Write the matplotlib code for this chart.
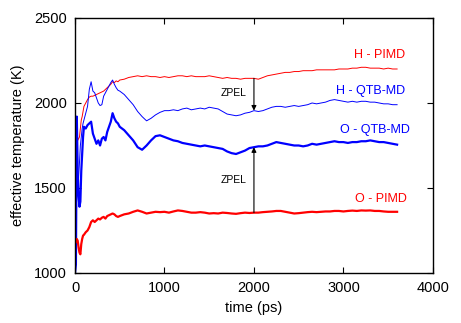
import matplotlib
matplotlib.use("Agg")
import matplotlib.pyplot as plt
import numpy as np

plt.rcParams["font.family"] = ["Liberation Sans", "DejaVu Sans"]

# time grid (ps): dense at start, then every 50 ps
time_ps = np.concatenate([
    [0, 10, 20, 30, 40, 50, 60, 70, 80, 90, 100],
    np.arange(120, 501, 20),
    np.arange(550, 3601, 50),
])

h_pimd = [1800, 1850, 1900, 1780, 1790, 1800, 1850, 1900, 1920, 1950, 1980,
          2000, 2020, 2035, 2040, 2040, 2045, 2050, 2055, 2060, 2065,
          2070, 2080, 2090, 2100, 2110, 2125, 2120, 2130, 2125, 2135,
          2140, 2150, 2155, 2160, 2155, 2160, 2155, 2155, 2150, 2155,
          2150, 2155, 2160, 2160, 2155, 2160, 2155, 2155, 2155, 2160,
          2155, 2150, 2145, 2150, 2145, 2145, 2140, 2145, 2145, 2145,
          2140, 2150, 2160, 2165, 2170, 2175, 2180, 2180, 2185, 2185,
          2190, 2190, 2190, 2195, 2195, 2195, 2195, 2195, 2200, 2200,
          2200, 2205, 2205, 2210, 2210, 2205, 2205, 2205, 2200, 2205,
          2200, 2200]

h_qtb = [1000, 1500, 1700, 1550, 1560, 1650, 1750, 1800, 1850, 1880, 1900,
         1940, 1980, 2080, 2125, 2070, 2060, 2030, 2000, 1985, 1990,
         2040, 2060, 2080, 2100, 2120, 2135, 2110, 2090, 2075, 2070,
         2050, 2020, 1990, 1950, 1920, 1895, 1910, 1930, 1945, 1955,
         1955, 1960, 1955, 1965, 1970, 1960, 1965, 1970, 1965, 1975,
         1970, 1965, 1950, 1935, 1930, 1925, 1930, 1940, 1945, 1955,
         1950, 1955, 1965, 1975, 1980, 1980, 1975, 1980, 1985, 1980,
         1985, 1990, 2000, 1995, 2000, 2005, 2015, 2020, 2015, 2010,
         2005, 2010, 2005, 2010, 2010, 2005, 2005, 2000, 1995, 1995,
         1990, 1990]

o_qtb = [1000, 1050, 1920, 1600, 1450, 1390, 1420, 1600, 1700, 1800, 1860,
         1850, 1870, 1880, 1890, 1820, 1790, 1760, 1780, 1750, 1790,
         1800, 1780, 1830, 1860, 1890, 1940, 1910, 1890, 1880, 1860,
         1840, 1810, 1780, 1740, 1725, 1750, 1780, 1805, 1810, 1800,
         1790, 1780, 1775, 1765, 1760, 1755, 1750, 1745, 1750, 1745,
         1740, 1735, 1730, 1715, 1705, 1700, 1710, 1720, 1735, 1740,
         1745, 1745, 1750, 1760, 1770, 1765, 1760, 1755, 1750, 1750,
         1745, 1750, 1760, 1755, 1760, 1765, 1770, 1775, 1770, 1770,
         1765, 1770, 1770, 1775, 1775, 1780, 1775, 1770, 1770, 1765,
         1760, 1755]

o_pimd = [1190, 1180, 1200, 1190, 1150, 1120, 1110, 1170, 1200, 1220, 1225,
          1240, 1250, 1270, 1300, 1310, 1300, 1310, 1320, 1315, 1325,
          1330, 1320, 1335, 1340, 1345, 1350, 1345, 1335, 1330, 1335,
          1345, 1350, 1360, 1368, 1360, 1350, 1355, 1360, 1358, 1360,
          1355, 1362, 1368, 1365, 1360, 1355, 1355, 1358, 1355, 1350,
          1352, 1350, 1355, 1353, 1350, 1348, 1352, 1355, 1353, 1355,
          1355, 1358, 1360, 1362, 1365, 1365, 1360, 1355, 1350, 1352,
          1355, 1358, 1360, 1358, 1360, 1362, 1362, 1365, 1365, 1362,
          1365, 1367, 1365, 1368, 1367, 1368, 1365, 1365, 1362, 1360,
          1360, 1360]

for s in (h_pimd, h_qtb, o_qtb, o_pimd):
    assert len(s) == len(time_ps), (len(s), len(time_ps))

zpel_t = 2000
zpel_h = (2145, 1955)
zpel_o = (1355, 1740)

fig = plt.figure(figsize=(4.61, 3.23), dpi=100)
ax = fig.add_axes([0.1627, 0.1548, 0.7763, 0.7895])

ax.plot(time_ps, h_pimd, color="red", lw=0.7)
ax.plot(time_ps, h_qtb, color="blue", lw=0.7)
ax.plot(time_ps, o_qtb, color="blue", lw=1.6)
ax.plot(time_ps, o_pimd, color="red", lw=1.6)

arrow = dict(arrowstyle="-|>", color="black", lw=0.8, mutation_scale=7,
             shrinkA=0, shrinkB=0)
ax.annotate("", xy=(zpel_t, zpel_h[1]), xytext=(zpel_t, zpel_h[0]), arrowprops=arrow)
ax.annotate("", xy=(zpel_t, zpel_o[1]), xytext=(zpel_t, zpel_o[0]), arrowprops=arrow)
ax.text(1770, 2060, "ZPEL", fontsize=7.5, ha="center", va="center")
ax.text(1770, 1547, "ZPEL", fontsize=7.5, ha="center", va="center")

ax.text(3690, 2282, "H - PIMD", color="red", fontsize=9, ha="right", va="center")
ax.text(3690, 2072, "H - QTB-MD", color="blue", fontsize=9, ha="right", va="center")
ax.text(3740, 1841, "O - QTB-MD", color="blue", fontsize=9, ha="right", va="center")
ax.text(3710, 1435, "O - PIMD", color="red", fontsize=9, ha="right", va="center")

ax.set_xlim(0, 4000)
ax.set_ylim(1000, 2500)
ax.set_xticks([0, 1000, 2000, 3000, 4000])
ax.set_yticks([1000, 1500, 2000, 2500])
ax.tick_params(direction="in", length=4, width=0.8, top=True, right=True,
               labelsize=10.5, pad=6)
for sp in ax.spines.values():
    sp.set_linewidth(1.0)
ax.set_xlabel("time (ps)", fontsize=10.5, labelpad=4)
ax.set_ylabel("effective temperature (K)", fontsize=10.5, labelpad=6)

fig.savefig("out.png", dpi=100)
